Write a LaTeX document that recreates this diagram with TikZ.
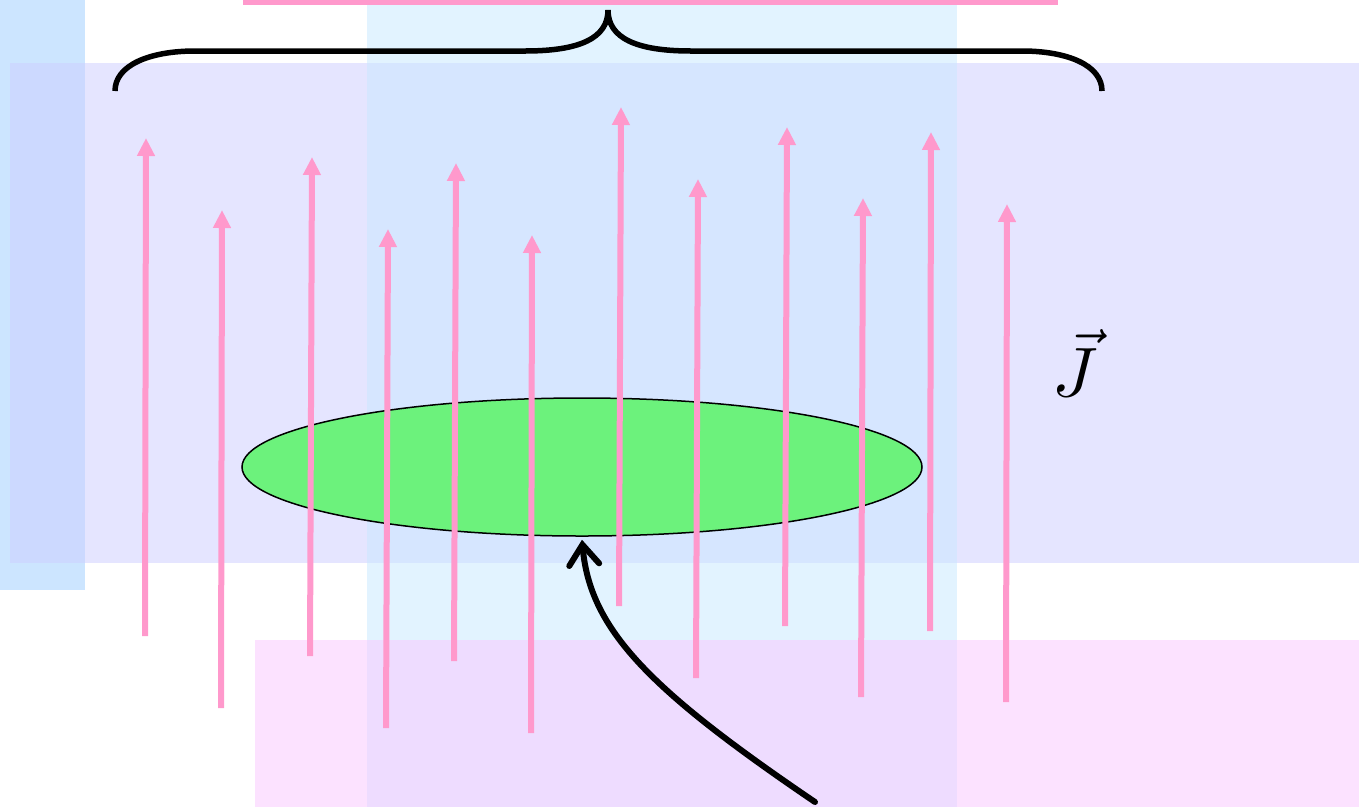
\documentclass[tikz,border=0pt]{standalone}
\usetikzlibrary{arrows.meta,shapes.geometric}
\definecolor{stripblue}{RGB}{153,204,255}
\definecolor{lav}{RGB}{204,204,255}
\definecolor{cyanish}{RGB}{198,232,255}
\definecolor{pinkrect}{RGB}{250,198,255}
\definecolor{pinkline}{RGB}{255,153,204}
\definecolor{disc}{RGB}{108,242,124}
\tikzset{
  panel/.style={fill=#1, fill opacity=0.5, draw=none},
  jarrow/.style={draw=pinkline, line width=6pt, -{Triangle[length=18pt,width=17pt]}},
  pointer/.style={draw=black, line width=6pt, line cap=round, -{Straight Barb[length=20pt,width=30pt,line cap=round]}}
}
\begin{document}
\begin{tikzpicture}[x=1pt,y=-1pt]
\useasboundingbox (0,0) rectangle (1359,807);
% translucent panels
\fill[panel=stripblue] (0,0) rectangle (85,590);
\fill[panel=lav] (10,63) rectangle (1359,563);
\fill[panel=cyanish] (367,0) rectangle (957,807);
\fill[panel=pinkrect] (255,640) rectangle (1359,807);
% top pink line
\fill[pinkline] (243,0) rectangle (1058,5);
% brace
\draw[line width=5.5pt] (115,91) .. controls (115,65) and (150,51) .. (195,51) -- (525,51) .. controls (580,51) and (608,38) .. (608,10) .. controls (608,38) and (636,51) .. (691,51) -- (1022,51) .. controls (1067,51) and (1102,65) .. (1102,91);
% disc
\node[draw=black, line width=1.5pt, fill=disc, ellipse, minimum width=680pt, minimum height=138pt, inner sep=0pt] (disc) at (582,467) {};
% current arrows
\coordinate (a1) at (145,636); \coordinate (b1) at (146,138);
\coordinate (a2) at (221,708); \coordinate (b2) at (222,210);
\coordinate (a3) at (310,656); \coordinate (b3) at (312,157);
\coordinate (a4) at (386,728); \coordinate (b4) at (388,229);
\coordinate (a5) at (454,661); \coordinate (b5) at (456,163);
\coordinate (a6) at (531,733); \coordinate (b6) at (532,235);
\coordinate (a7) at (619,606); \coordinate (b7) at (621,107);
\coordinate (a8) at (696,678); \coordinate (b8) at (698,179);
\coordinate (a9) at (785,626); \coordinate (b9) at (787,127);
\coordinate (a10) at (861,697); \coordinate (b10) at (863,198);
\coordinate (a11) at (930,631); \coordinate (b11) at (931,132);
\coordinate (a12) at (1006,702); \coordinate (b12) at (1007,204);
\foreach \i in {1,...,12} { \draw[jarrow] (a\i) -- (b\i); }
% label
\node[scale=7, inner sep=0pt] (J) at (1075,363) {$\vec{J}$};
% pointer
\coordinate (p0) at (815,802);
\draw[pointer] (p0) .. controls (650,690) and (590,630) .. ([yshift=-3pt]disc.south);
\end{tikzpicture}
\end{document}
